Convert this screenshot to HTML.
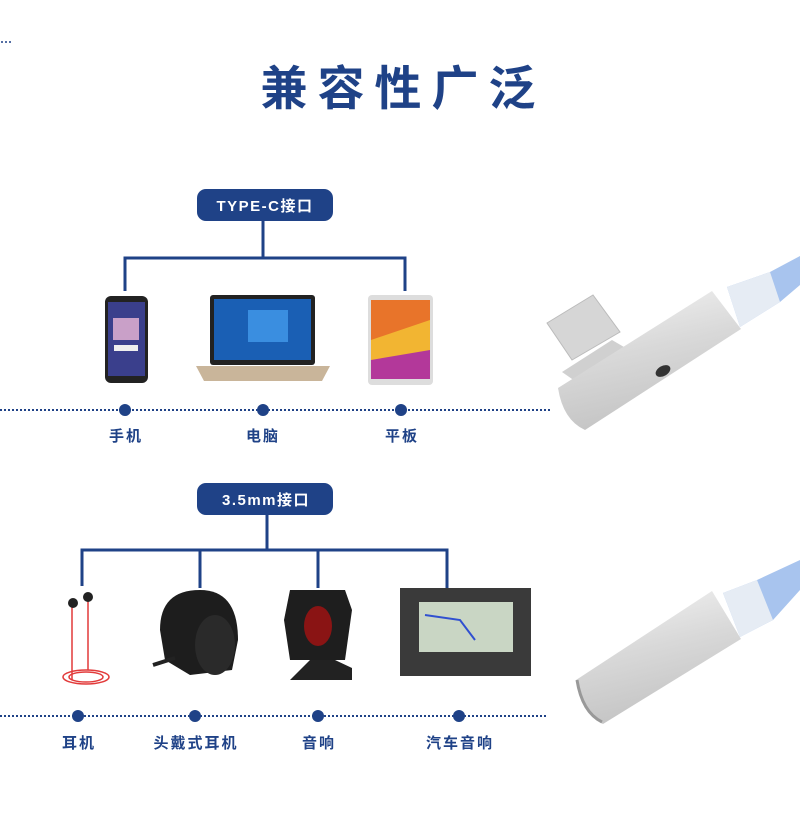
<!DOCTYPE html>
<html><head><meta charset="utf-8"><style>
html,body{margin:0;padding:0;background:#fff;}
body{width:800px;height:815px;overflow:hidden;position:relative;font-family:"Liberation Sans","Noto Sans CJK SC",sans-serif;}
svg{position:absolute;left:0;top:0;}
</style></head><body>
<svg width="800" height="815" viewBox="0 0 800 815" xmlns="http://www.w3.org/2000/svg" font-family="Liberation Sans, Noto Sans CJK SC, sans-serif">
<defs>
<linearGradient id="met" x1="0" y1="0" x2="0.3" y2="1"><stop offset="0" stop-color="#f4f4f4"/><stop offset="0.5" stop-color="#d9d9d9"/><stop offset="1" stop-color="#c4c4c4"/></linearGradient>
</defs>
<g fill="#1f4287"><circle cx="2" cy="42" r="1"/><circle cx="6" cy="42" r="1"/><circle cx="10" cy="42" r="1"/></g>
<text x="403" y="105" text-anchor="middle" font-size="47" font-weight="bold" fill="#1f4287" letter-spacing="10" font-family="Noto Sans CJK SC, sans-serif">兼容性广泛</text>

<rect x="197" y="189" width="136" height="32" rx="9" fill="#1f4287"/>
<text x="265" y="211" text-anchor="middle" font-size="15" font-weight="bold" fill="#fff" letter-spacing="1.5">TYPE-C接口</text>
<g stroke="#1f4287" stroke-width="3" fill="none">
<path d="M263 221V258M125 291V258H405V291"/>
</g>
<rect x="105" y="296" width="43" height="87" rx="6" fill="#222"/>
<rect x="108" y="302" width="37" height="74" fill="#3a3f8c"/>
<rect x="113" y="318" width="26" height="22" fill="#c9a0c8"/>
<rect x="114" y="345" width="24" height="6" fill="#eee"/>
<rect x="210" y="295" width="105" height="70" rx="3" fill="#222"/>
<rect x="214" y="299" width="97" height="61" fill="#1a5fb4"/>
<rect x="248" y="310" width="40" height="32" fill="#3a8ee0"/>
<path d="M196 366H330L322 381H204Z" fill="#c9b59a"/>
<rect x="368" y="295" width="65" height="90" rx="4" fill="#ddd"/>
<rect x="371" y="300" width="59" height="79" fill="#e8742a"/>
<path d="M371 340L430 320V379H371Z" fill="#f2b532"/>
<path d="M371 360L430 350V379H371Z" fill="#b3389a"/>
<line x1="0" y1="410" x2="552" y2="410" stroke="#1f4287" stroke-width="2" stroke-dasharray="2 2"/>
<g fill="#1f4287"><circle cx="125" cy="410" r="6"/><circle cx="263" cy="410" r="6"/><circle cx="401" cy="410" r="6"/></g>
<g font-size="15" font-weight="bold" fill="#1f4287" text-anchor="middle" letter-spacing="2">
<text x="126" y="441">手机</text><text x="263" y="441">电脑</text><text x="402" y="441">平板</text>
</g>

<rect x="197" y="483" width="136" height="32" rx="9" fill="#1f4287"/>
<text x="266" y="505" text-anchor="middle" font-size="15" font-weight="bold" fill="#fff" letter-spacing="1.5">3.5mm接口</text>
<g stroke="#1f4287" stroke-width="3" fill="none">
<path d="M267 515V550M82 586V550H447V588M200 550V588M318 550V588"/>
</g>
<g stroke="#e23a3a" stroke-width="1.5" fill="none">
<path d="M72 602V680M88 598V670"/>
<ellipse cx="86" cy="677" rx="23" ry="7"/><ellipse cx="86" cy="677" rx="17" ry="5"/>
</g>
<circle cx="73" cy="603" r="5" fill="#222"/><circle cx="88" cy="597" r="5" fill="#222"/>
<path d="M160 630Q160 590 200 590Q238 590 238 640L232 670L190 675L165 660Z" fill="#1d1d1d"/>
<ellipse cx="215" cy="645" rx="20" ry="30" fill="#2a2a2a"/>
<path d="M153 665L175 658" stroke="#222" stroke-width="4"/>
<path d="M290 590H345L352 610L345 660H290L284 620Z" fill="#1e1e1e"/>
<ellipse cx="318" cy="626" rx="14" ry="20" fill="#8a1414"/>
<path d="M290 680H352V668L335 660H310Z" fill="#222"/>
<rect x="400" y="588" width="131" height="88" fill="#3a3a3a"/>
<rect x="419" y="602" width="94" height="50" fill="#c9d6c4"/>
<path d="M425 615L460 620L475 640" stroke="#3050d0" stroke-width="2" fill="none"/>
<line x1="0" y1="716" x2="548" y2="716" stroke="#1f4287" stroke-width="2" stroke-dasharray="2 2"/>
<g fill="#1f4287"><circle cx="78" cy="716" r="6"/><circle cx="195" cy="716" r="6"/><circle cx="318" cy="716" r="6"/><circle cx="459" cy="716" r="6"/></g>
<g font-size="15" font-weight="bold" fill="#1f4287" text-anchor="middle" letter-spacing="2">
<text x="79" y="748">耳机</text><text x="196" y="748">头戴式耳机</text><text x="319" y="748">音响</text><text x="460" y="748">汽车音响</text>
</g>

<path d="M727 287L770 272L800 256V285L780 302L740 327Z" fill="#a8c4ee"/>
<path d="M727 287L770 272L780 302L740 327Z" fill="#e6ecf4"/>
<path d="M547 323L593 295L620 332L572 360Z" fill="#d6d6d6" stroke="#bbb"/>
<path d="M562 372L612 340L636 354L585 388Z" fill="#d0d0d0"/>
<path d="M558 388L712 291L741 329L585 430Q563 420 558 388Z" fill="url(#met)"/>
<ellipse cx="663" cy="371" rx="8" ry="5" fill="#333" transform="rotate(-30 663 371)"/>
<path d="M723 593L757 580L800 560V590L773 620L740 637Z" fill="#a8c4ee"/>
<path d="M723 593L757 580L773 620L740 637Z" fill="#e6ecf4"/>
<path d="M576 680L712 591L741 639L603 724Q582 714 576 680Z" fill="url(#met)"/>
<path d="M577 680Q582 712 602 722" stroke="#999" stroke-width="3" fill="none"/>
</svg>
</body></html>
